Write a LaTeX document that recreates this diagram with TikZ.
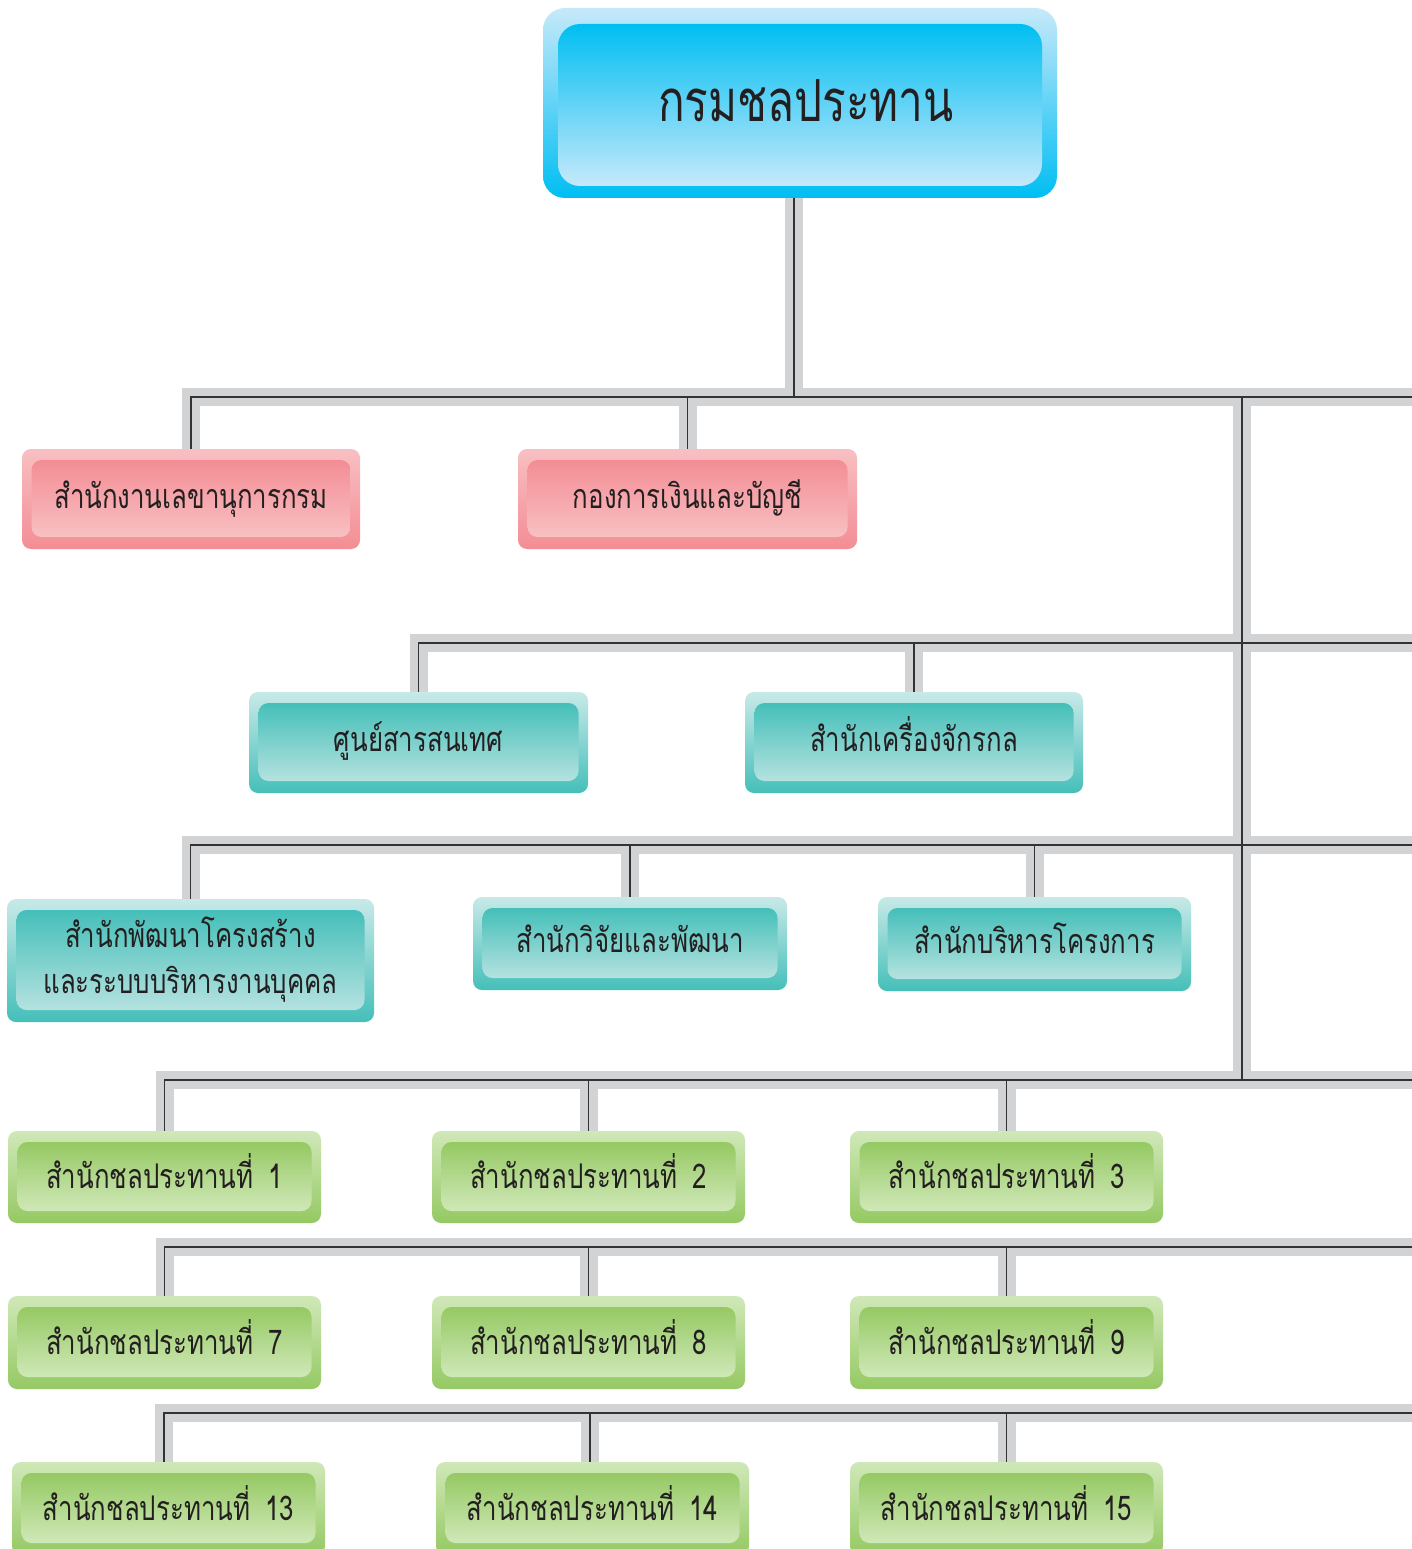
\documentclass[tikz,border=0pt]{standalone}
\usepackage{fontspec}
\newfontfamily\thaifont[Script=Thai,FakeStretch=0.76]{Loma}
\usetikzlibrary{positioning}
\pgfdeclarelayer{back}
\pgfsetlayers{back,main}
\definecolor{txt}{HTML}{231F20}
\definecolor{connG}{HTML}{D1D3D4}
\definecolor{connD}{HTML}{333333}
\definecolor{pinkL}{HTML}{F8C0C2}
\definecolor{pinkD}{HTML}{F38D95}
\definecolor{tealL}{HTML}{B5E2E0}
\definecolor{tealD}{HTML}{45BFB9}
\definecolor{greenL}{HTML}{D0E8B8}
\definecolor{greenD}{HTML}{95C963}
\definecolor{blueL}{HTML}{C6E9FA}
\definecolor{blueD}{HTML}{00BEF2}
\definecolor{blueM}{HTML}{6ACFF4}
\tikzset{
  every node/.style={inner sep=0pt, outer sep=0pt},
  pinkO/.style={rounded corners=9pt, top color=pinkL, bottom color=pinkD},
  pinkI/.style={rounded corners=10pt, top color=pinkD, bottom color=pinkL},
  tealO/.style={rounded corners=9pt, top color=tealL!75!white, bottom color=tealD},
  tealI/.style={rounded corners=10pt, top color=tealD, bottom color=tealL},
  greenO/.style={rounded corners=9pt, top color=greenL, bottom color=greenD},
  greenI/.style={rounded corners=10pt, top color=greenD, bottom color=greenL, text height=32pt, text depth=8pt},
  lbl/.style={text=txt, font=\thaifont\fontsize{34}{46}\selectfont, align=center},
  oneline/.style={text height=27pt, text depth=8pt},
  graypass/.style={draw=connG, line width=18pt, line join=miter, line cap=butt},
  darkpass/.style={draw=connD, line width=1.4pt, line join=miter, line cap=butt},
}
% [text style] name, cx, cy, w, h, scheme, text
\newcommand\obox[8][oneline]{%
  \node[#7O, minimum width=#5, minimum height=#6] (#2) at (#3,#4) {};
  \node[lbl, #1, #7I, minimum width=#5-19, minimum height=#6-23] (#2t) at (#3,#4-0.5) {#8};
}
\newcommand\nr[1]{สำนักชลประทานที่\hspace{15pt}#1}
\newcommand\connectors[1]{%
  \draw[#1] (t0) -- (t0 |- top.south);
  \draw[#1] (b1.north) |- (e1);
  \draw[#1] (b2.north) -- (b2.north |- e1);
  \draw[#1] (k1) -- (k4);
  \draw[#1] (b3.north) |- (e2);
  \draw[#1] (b4.north) -- (b4.north |- e2);
  \draw[#1] (b5.north) |- (e3);
  \draw[#1] (b6.north) -- (b6.north |- e3);
  \draw[#1] (b7.north) -- (b7.north |- e3);
  \draw[#1] (b8.north) |- (e4);
  \draw[#1] (b9.north) -- (b9.north |- e4);
  \draw[#1] (b10.north) -- (b10.north |- e4);
  \draw[#1] (b11.north) |- (e5);
  \draw[#1] (b12.north) -- (b12.north |- e5);
  \draw[#1] (b13.north) -- (b13.north |- e5);
  \draw[#1] (b14.north -| d14) |- (e6);
  \draw[#1] (b15.north -| d15) -- (d15);
  \draw[#1] (b16.north) -- (b16.north |- e6);
}
\begin{document}
\begin{tikzpicture}[x=1pt,y=-1pt]
\useasboundingbox (0,0) rectangle (1411,1549);
% top box
\node[rounded corners=22pt, top color=blueL, bottom color=blueD, minimum width=514, minimum height=190] (top) at (800,103) {};
\node[rounded corners=22pt, top color=blueD, middle color=blueM, bottom color=blueL, minimum width=484, minimum height=162] (topi) at (800,105) {};
\node[text=txt, font=\thaifont\fontsize{58}{60}\selectfont, text height=46pt, text depth=12pt] (topt) at (806,105) {กรมชลประทาน};
% level 1
\obox{b1}{191}{499}{338}{100}{pink}{สำนักงานเลขานุการกรม}
\obox{b2}{687.5}{499}{339}{100}{pink}{กองการเงินและบัญชี}
% level 2
\obox{b3}{418.5}{742.5}{339}{101}{teal}{ศูนย์สารสนเทศ}
\obox{b4}{914}{742.5}{338}{101}{teal}{สำนักเครื่องจักรกล}
% level 3
\obox[]{b5}{190.5}{960.5}{367}{123}{teal}{สำนักพัฒนาโครงสร้าง\\และระบบบริหารงานบุคคล}
\obox{b6}{630}{943.5}{314}{93}{teal}{สำนักวิจัยและพัฒนา}
\obox{b7}{1034.5}{944}{313}{94}{teal}{สำนักบริหารโครงการ}
% level 4
\obox{b8}{164.5}{1177}{313}{92}{green}{\nr{1}}
\obox{b9}{588.5}{1177}{313}{92}{green}{\nr{2}}
\obox{b10}{1006.5}{1177}{313}{92}{green}{\nr{3}}
% level 5
\obox{b11}{164.5}{1342.5}{313}{93}{green}{\nr{7}}
\obox{b12}{588.5}{1342.5}{313}{93}{green}{\nr{8}}
\obox{b13}{1006.5}{1342.5}{313}{93}{green}{\nr{9}}
% level 6
\obox{b14}{168.5}{1508.5}{313}{93}{green}{\nr{13}}
\obox{b15}{592.5}{1508.5}{313}{93}{green}{\nr{14}}
\obox{b16}{1006.5}{1508.5}{313}{93}{green}{\nr{15}}
% connector anchors
\coordinate (t0) at (794,397);
\coordinate (e1) at (1425,397);
\coordinate (k1) at (1242,397);
\coordinate (k4) at (1242,1080);
\coordinate (e2) at (1425,643);
\coordinate (e3) at (1425,845);
\coordinate (e4) at (1425,1080);
\coordinate (e5) at (1425,1247);
\coordinate (e6) at (1425,1413);
\coordinate (d14) at (164,1413);
\coordinate (d15) at (590,1413);
\begin{pgfonlayer}{back}
\fill[white] (0,0) rectangle (1411,1549);
\connectors{graypass}
\connectors{darkpass}
\end{pgfonlayer}
\end{tikzpicture}
\end{document}
